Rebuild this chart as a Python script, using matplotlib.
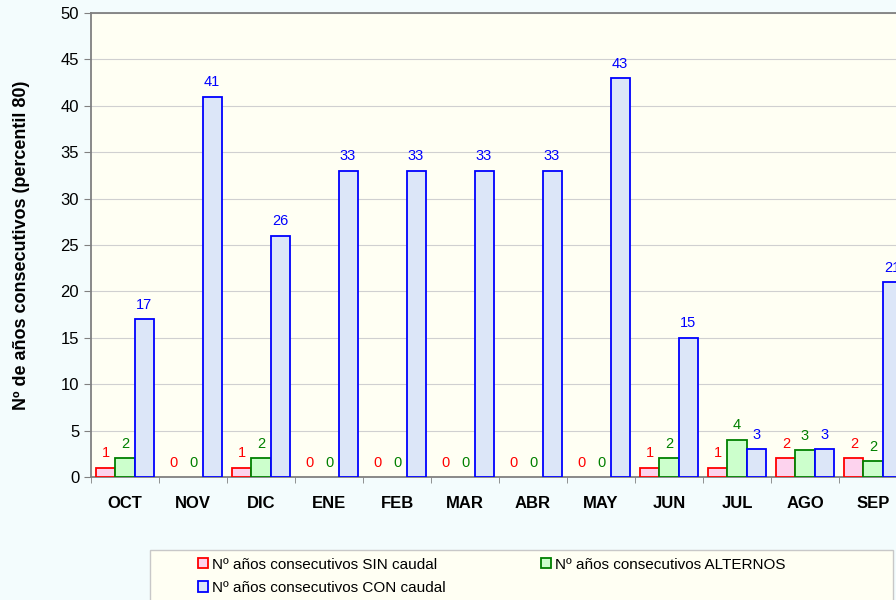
import numpy as np
import matplotlib.pyplot as plt
from matplotlib.patches import Rectangle

plt.rcParams['font.family'] = ['Liberation Sans', 'DejaVu Sans']

meses = ['OCT', 'NOV', 'DIC', 'ENE', 'FEB', 'MAR', 'ABR', 'MAY', 'JUN', 'JUL', 'AGO', 'SEP']
sin_caudal = [1, 0, 1, 0, 0, 0, 0, 0, 1, 1, 2, 2]
alternos = [2, 0, 2, 0, 0, 0, 0, 0, 2, 4, 2.9, 1.7]
con_caudal = [17, 41, 26, 33, 33, 33, 33, 43, 15, 3, 3, 21]

series = [
    ('Nº años consecutivos SIN caudal', sin_caudal, '#FDD3EE', '#FF0000'),
    ('Nº años consecutivos ALTERNOS', alternos, '#CCFFCC', '#008000'),
    ('Nº años consecutivos CON caudal', con_caudal, '#DCE6F8', '#0000FF'),
]

fig = plt.figure(figsize=(8.96, 6), dpi=100, facecolor='#F3FCFD')
# plot area runs past the right edge, like the original
ax = fig.add_axes([91/896, 123/600, 816/896, 464/600], facecolor='#FFFFF3')

x = np.arange(len(meses))
w = 0.28
handles = []
for k, (name, vals, fc, ec) in enumerate(series):
    pos = x + (k - 1) * w
    # zero-height bars show no outline
    ecs = [ec if v > 0 else 'none' for v in vals]
    ax.bar(pos, vals, width=w, color=fc, edgecolor=ecs, linewidth=1.3, zorder=3)
    handles.append(Rectangle((0, 0), 1, 1, facecolor=fc, edgecolor=ec, linewidth=1.3, label=name))
    for p, v in zip(pos, vals):
        ax.text(p, v + 0.8, '%.0f' % v, ha='center', va='bottom', color=ec, fontsize=10.5, zorder=4)

ax.set_xlim(-0.5, len(meses) - 0.5)
ax.set_ylim(0, 50)
ax.set_yticks(range(0, 51, 5))
ax.yaxis.grid(True, color='#D0D0D0', linewidth=0.8)
ax.set_axisbelow(True)

ax.set_xticks(x)
ax.set_xticklabels(meses, fontsize=12, fontweight='bold')
ax.set_xticks(np.arange(-0.5, len(meses), 1), minor=True)
ax.tick_params(axis='x', which='major', length=0, pad=14)
ax.tick_params(axis='x', which='minor', length=4, color='#808080')
ax.tick_params(axis='y', labelsize=12, length=5, color='#808080')
for s in ax.spines.values():
    s.set_color('#808080')
    s.set_linewidth(1.3)

ax.set_ylabel('Nº de años consecutivos (percentil 80)', fontsize=13, fontweight='bold', labelpad=22)

# legend frame at the bottom
fig.patches.append(Rectangle((150/896, -0.01), 743/896, 56/600, transform=fig.transFigure,
                             facecolor='#FFFFF3', edgecolor='#C8C8C8', linewidth=1))
# column-major fill: SIN / CON in first column, ALTERNOS in second
order = [0, 2, 1]
fig.legend([handles[i] for i in order], [handles[i].get_label() for i in order],
           loc='upper left', bbox_to_anchor=(184/896, 1 - 544/600), ncol=2,
           frameon=False, fontsize=11, handlelength=0.65, handleheight=0.65, handletextpad=0.25,
           columnspacing=6.3, labelspacing=0.6)

fig.savefig('out.png', dpi=100, facecolor=fig.get_facecolor())
